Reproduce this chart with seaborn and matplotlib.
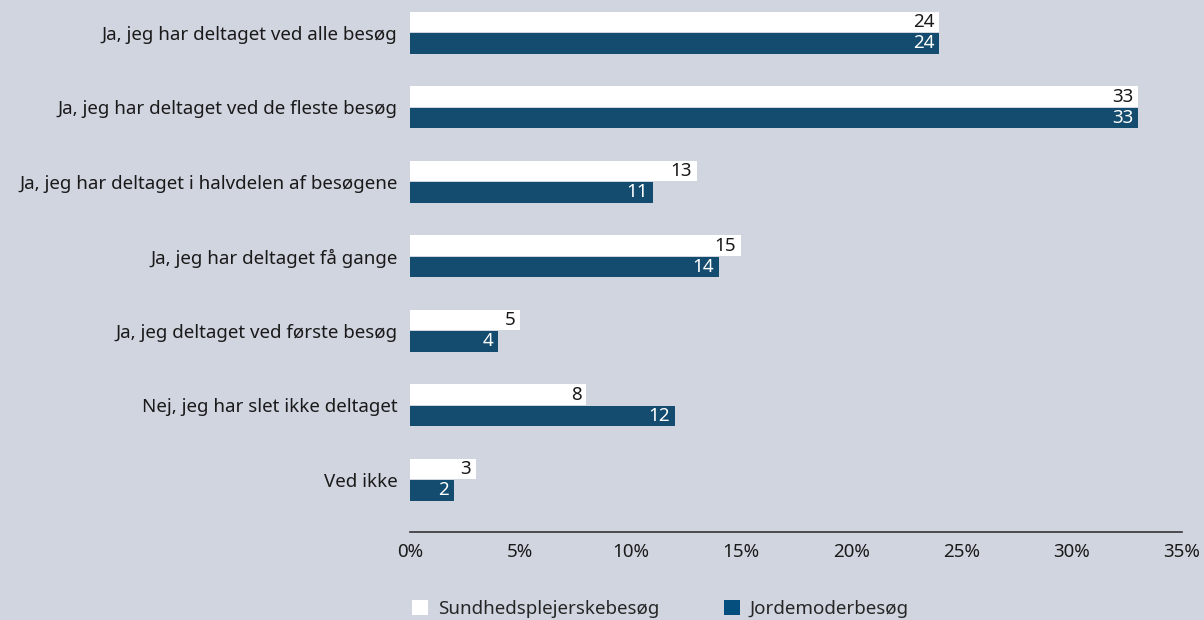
import matplotlib.pyplot as plt
import pandas as pd
import seaborn as sns
from matplotlib.patches import Patch

# Data (percent)
categories = [
    'Ja, jeg har deltaget ved alle besøg',
    'Ja, jeg har deltaget ved de fleste besøg',
    'Ja, jeg har deltaget i halvdelen af besøgene',
    'Ja, jeg har deltaget få gange',
    'Ja, jeg deltaget ved første besøg',
    'Nej, jeg har slet ikke deltaget',
    'Ved ikke',
]
sundhed = [24, 33, 13, 15, 5, 8, 3]
jordemoder = [24, 33, 11, 14, 4, 12, 2]
series = ['Sundhedsplejerskebesøg', 'Jordemoderbesøg']
ticks = [0, 5, 10, 15, 20, 25, 30, 35]

bg = '#d1d5e0'
blue = '#054f7e'
colors = {series[0]: 'white', series[1]: blue}
fs = 13.5

df = pd.DataFrame({
    'kategori': categories * 2,
    'serie': [series[0]] * len(categories) + [series[1]] * len(categories),
    'pct': sundhed + jordemoder,
})

sns.set_style('white', {'axes.facecolor': bg, 'figure.facecolor': bg})
plt.rcParams['font.family'] = ['Noto Sans', 'DejaVu Sans']

fig = plt.figure(figsize=(12.04, 6.2), dpi=100)
ax = fig.add_axes([0.3405, 0.142, 0.6412, 0.858])

sns.barplot(data=df, y='kategori', x='pct', hue='serie', order=categories,
            hue_order=series, palette=colors, orient='h', width=0.57,
            gap=0.03, edgecolor='none', linewidth=0, legend=False, ax=ax)

# value labels inside bar ends
for cont, col in zip(ax.containers, ['#1a1a1a', 'white']):
    texts = ax.bar_label(cont, labels=[f'{int(round(p.get_width()))}' for p in cont],
                         padding=-3.5, fontsize=fs, color=col)
    for t in texts:
        t.set_ha('right')

ax.set_xlim(0, 35)
ax.set_ylim(6.7, -0.44)
ax.set_xticks(ticks)
ax.set_xticklabels([f'{t}%' for t in ticks], fontsize=fs, color='#1a1a1a')
ax.tick_params(axis='x', length=0, pad=8)
ax.tick_params(axis='y', length=0, pad=9, labelsize=fs, labelcolor='#1a1a1a')
ax.set_xlabel('')
ax.set_ylabel('')
for s in ['top', 'right', 'left']:
    ax.spines[s].set_visible(False)
ax.spines['bottom'].set_color('#333333')
ax.spines['bottom'].set_linewidth(1.2)

handles = [Patch(facecolor=colors[s], edgecolor='none', label=s) for s in series]
fig.legend(handles=handles, loc='center left', bbox_to_anchor=(0.3285, 0.018),
           ncol=2, frameon=False, fontsize=fs, handlelength=0.85, handleheight=0.85,
           handletextpad=0.5, columnspacing=3.45)

fig.savefig('out.png', dpi=100, facecolor=bg)
